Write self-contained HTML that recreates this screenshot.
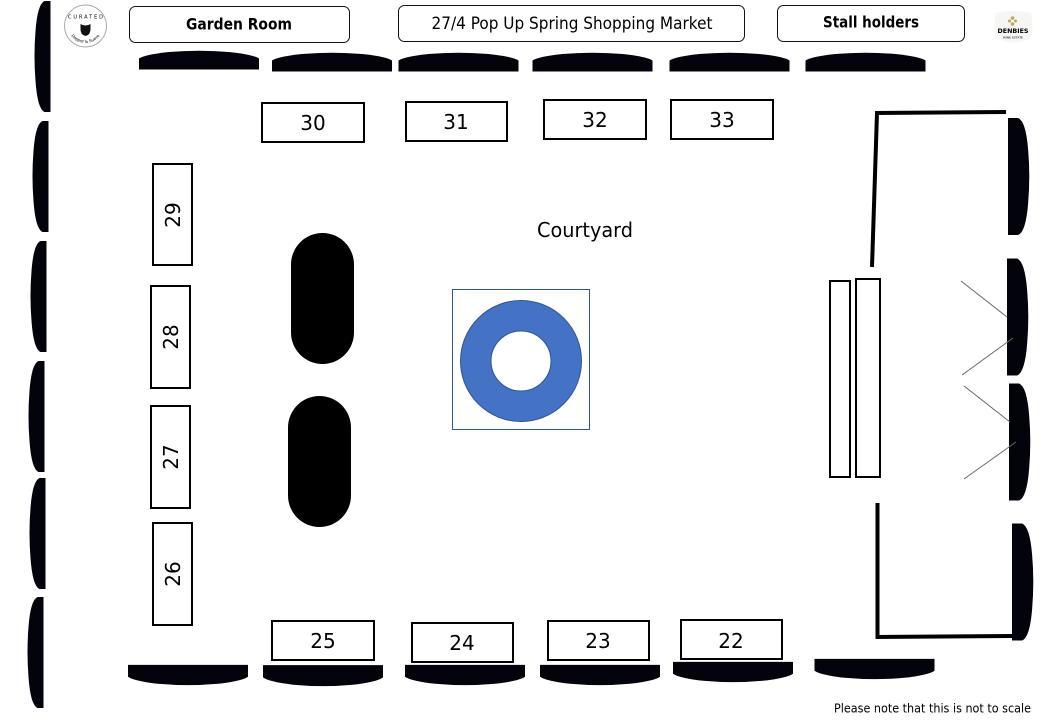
<!DOCTYPE html>
<html>
<head>
<meta charset="utf-8">
<style>
html,body{margin:0;padding:0;background:#fff;}
svg{display:block;}
text{font-family:"DejaVu Sans","Liberation Sans",sans-serif;fill:#000;}
</style>
</head>
<body>
<svg width="1040" height="720" viewBox="0 0 1040 720" xmlns="http://www.w3.org/2000/svg">
<defs>
<path id="h" d="M0,20 V9 Q6,5 30,2.5 Q60,0 90,2.5 Q114,5 120,9 V20 Z" fill="#03030c"/>
<path id="v" d="M17,0 V111 H11 Q4,108 2,80 Q0,55 2,30 Q4,3 11,0 Z" fill="#03030c"/>
<path id="r" d="M0,0 V117 H9 Q16,114 18,85 Q20,58 18,32 Q16,3 9,0 Z" fill="#03030c"/>
<path id="arc" d="M68,29 A18,18 0 0 0 103,29"/>
</defs>

<!-- top windows -->
<use href="#h" x="139" y="49.5"/>
<use href="#h" x="272" y="51.5"/>
<use href="#h" x="398.5" y="51.5"/>
<use href="#h" x="532.5" y="51.5"/>
<use href="#h" x="669.5" y="51.5"/>
<use href="#h" x="805.5" y="51.5"/>

<!-- bottom windows -->
<use href="#h" transform="translate(128,686.5) scale(1,-1.08)"/>
<use href="#h" transform="translate(263,687.5) scale(1,-1.12)"/>
<use href="#h" transform="translate(405,686.5) scale(1,-1.08)"/>
<use href="#h" transform="translate(540,686.5) scale(1,-1.08)"/>
<use href="#h" transform="translate(673,683.5) scale(1,-1.08)"/>
<use href="#h" transform="translate(814.5,680.5) scale(1,-1.08)"/>

<!-- left windows -->
<use href="#v" x="33.5" y="1"/>
<use href="#v" x="31.5" y="121"/>
<use href="#v" x="29.5" y="241"/>
<use href="#v" x="27.5" y="361"/>
<use href="#v" x="28.5" y="478"/>
<use href="#v" x="26.5" y="597"/>

<!-- right windows -->
<use href="#r" transform="translate(1008,118) scale(1.12,1)"/>
<use href="#r" transform="translate(1007,258.5) scale(1.12,1)"/>
<use href="#r" transform="translate(1009,383.5) scale(1.12,1)"/>
<use href="#r" transform="translate(1012,523.5) scale(1.12,1)"/>

<!-- header boxes -->
<g fill="#fff" stroke="#111" stroke-width="1">
<rect x="129.5" y="6.5" width="220" height="36" rx="6"/>
<rect x="398.5" y="5.5" width="346" height="36" rx="6"/>
<rect x="777.5" y="5.5" width="187" height="36" rx="6"/>
</g>
<text x="239" y="29.5" font-size="16" font-weight="bold" text-anchor="middle" textLength="106" lengthAdjust="spacingAndGlyphs">Garden Room</text>
<text x="572" y="29" font-size="17" text-anchor="middle" textLength="281" lengthAdjust="spacingAndGlyphs">27/4 Pop Up Spring Shopping Market</text>
<text x="871" y="27.5" font-size="16" font-weight="bold" text-anchor="middle" textLength="96" lengthAdjust="spacingAndGlyphs">Stall holders</text>

<!-- curated logo -->
<circle cx="85.5" cy="26" r="21" fill="#fff" stroke="#aaa" stroke-width="1"/>
<text x="85.5" y="18.5" font-size="5" text-anchor="middle" textLength="35" fill="#333">CURATED</text>
<path d="M80.5,24 Q85.5,27 90.5,24 V29 Q90.5,35 85.5,36 Q80.5,35 80.5,29 Z" fill="#111"/>
<text font-size="4" fill="#666"><textPath href="#arc" startOffset="50%" text-anchor="middle">Dapper &amp; Suave</textPath></text>

<!-- denbies logo -->
<path d="M996,13 Q1013,9 1031,13 Q1034,28 1031,38 Q1013,47 996,38 Q993,28 996,13 Z" fill="#f6f6f4"/>
<g fill="#c2a759">
<circle cx="1012.5" cy="18" r="1.8"/><circle cx="1009.5" cy="21" r="1.5"/><circle cx="1015.5" cy="21" r="1.5"/><circle cx="1012.5" cy="24" r="1.8"/>
</g>
<text x="1013" y="33" font-size="6.5" font-weight="bold" text-anchor="middle" textLength="31" lengthAdjust="spacingAndGlyphs" fill="#5d6475">DENBIES</text>
<text x="1013" y="38.5" font-size="3" text-anchor="middle" fill="#aaa">WINE ESTATE</text>

<!-- stalls -->
<g fill="#fff" stroke="#000" stroke-width="2">
<rect x="262" y="103" width="102" height="39"/>
<rect x="406" y="102" width="101" height="39"/>
<rect x="544" y="100" width="102" height="39"/>
<rect x="671" y="100" width="102" height="39"/>
<rect x="272" y="621" width="102" height="39"/>
<rect x="412" y="623" width="101" height="39"/>
<rect x="548" y="621" width="101" height="39"/>
<rect x="681" y="620" width="101" height="39"/>
<rect x="153" y="164" width="39" height="101"/>
<rect x="151" y="286" width="39" height="102"/>
<rect x="151" y="406" width="39" height="102"/>
<rect x="153" y="523" width="39" height="102"/>
<rect x="830" y="281" width="20" height="196"/>
<rect x="856" y="279" width="24" height="198"/>
</g>
<g font-size="20" text-anchor="middle">
<text x="313" y="130">30</text>
<text x="456" y="129">31</text>
<text x="595" y="127">32</text>
<text x="722" y="127">33</text>
<text x="323" y="648">25</text>
<text x="462" y="650">24</text>
<text x="598" y="648">23</text>
<text x="731" y="648">22</text>
<text transform="translate(180,215) rotate(-90)">29</text>
<text transform="translate(178,337) rotate(-90)">28</text>
<text transform="translate(178,457) rotate(-90)">27</text>
<text transform="translate(180,574) rotate(-90)">26</text>
</g>

<text x="585" y="237" font-size="20" text-anchor="middle" textLength="96" lengthAdjust="spacingAndGlyphs">Courtyard</text>

<!-- pills -->
<rect x="291" y="233" width="63" height="131" rx="31.5" fill="#000"/>
<rect x="288" y="396" width="63" height="131" rx="31.5" fill="#000"/>

<!-- donut -->
<rect x="452.5" y="289.5" width="137" height="140" fill="#fff" stroke="#2f5597" stroke-width="1"/>
<circle cx="521" cy="361" r="60.5" fill="#4472c4" stroke="#2f5597" stroke-width="1"/>
<circle cx="521" cy="361" r="30" fill="#fff" stroke="#2f5597" stroke-width="1"/>

<!-- thick walls -->
<g stroke="#000" stroke-width="4" fill="none">
<path d="M1006,112 L877,113 L872,267"/>
<path d="M877.5,503 V637 L1012,636"/>
</g>

<!-- thin door lines -->
<g stroke="#666" stroke-width="1">
<line x1="961" y1="281" x2="1007" y2="317"/>
<line x1="962" y1="375" x2="1013" y2="338"/>
<line x1="964" y1="386" x2="1010" y2="422"/>
<line x1="964" y1="479" x2="1016" y2="442"/>
</g>

<text x="932.5" y="712.5" font-size="12" text-anchor="middle" textLength="197" lengthAdjust="spacingAndGlyphs">Please note that this is not to scale</text>
</svg>
</body>
</html>
